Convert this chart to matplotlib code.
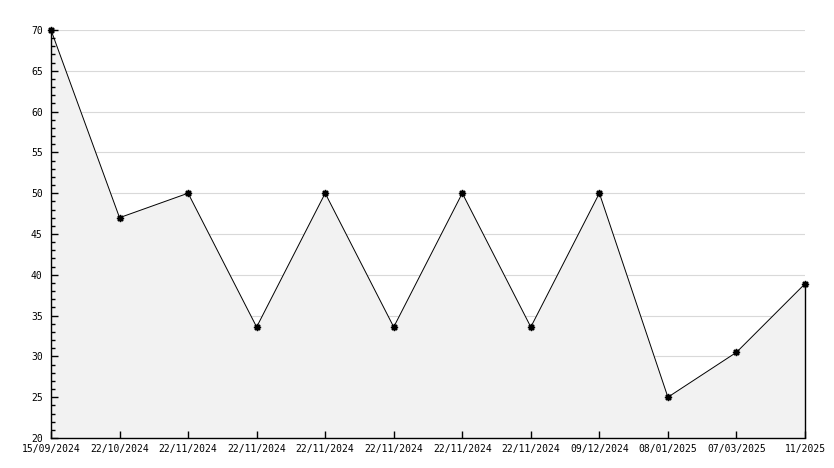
import matplotlib
matplotlib.use("Agg")
import matplotlib.pyplot as plt
import numpy as np

# values
dates = ["15/09/2024", "22/10/2024", "22/11/2024", "22/11/2024", "22/11/2024",
         "22/11/2024", "22/11/2024", "22/11/2024", "09/12/2024", "08/01/2025",
         "07/03/2025", "11/2025"]
values = [70, 47, 50, 33.6, 50, 33.6, 50, 33.6, 50, 25, 30.5, 38.9]
y_ticks = [20, 25, 30, 35, 40, 45, 50, 55, 60, 65, 70]

plt.rcParams['font.family'] = ['DejaVu Sans Mono']

fig = plt.figure(figsize=(8.34, 4.68), dpi=100)
ax = fig.add_axes([51 / 834, 30 / 468, 754 / 834, 408 / 468])

x = np.arange(len(values))

# horizontal grid under the grey area
for yv in y_ticks[1:]:
    ax.axhline(yv, color='#d9d9d9', linewidth=0.8, zorder=0.2)

# grey area under the line, closed on the right edge
ax.fill_between(x, values, 20, facecolor='#f2f2f2', edgecolor='none',
                zorder=0.3)
ax.vlines(x[-1], 20, values[-1], color='black', linewidth=1.0, zorder=2,
          clip_on=False)
ax.plot(x, values, color='black', linewidth=0.7, marker=(8, 1, 0),
        markersize=5, markerfacecolor='black', markeredgecolor='black',
        zorder=3, clip_on=False)

ax.set_xlim(0, len(values) - 1)
ax.set_ylim(20, 70)

ax.set_yticks(y_ticks)
ax.set_yticks(np.arange(20, 71, 1), minor=True)
ax.set_xticks(x)
ax.set_xticklabels(dates)

for side in ['top', 'right']:
    ax.spines[side].set_visible(False)
for side in ['left', 'bottom']:
    ax.spines[side].set_linewidth(1.0)

ax.tick_params(axis='both', which='major', direction='in', length=5,
               width=1, labelsize=7, colors='black')
ax.tick_params(axis='y', which='minor', direction='in', length=3, width=1)
ax.tick_params(axis='x', which='minor', bottom=False)
ax.tick_params(axis='y', which='major', pad=6)
ax.tick_params(axis='x', which='major', pad=4)

fig.savefig("out.png", dpi=100, facecolor='white')
